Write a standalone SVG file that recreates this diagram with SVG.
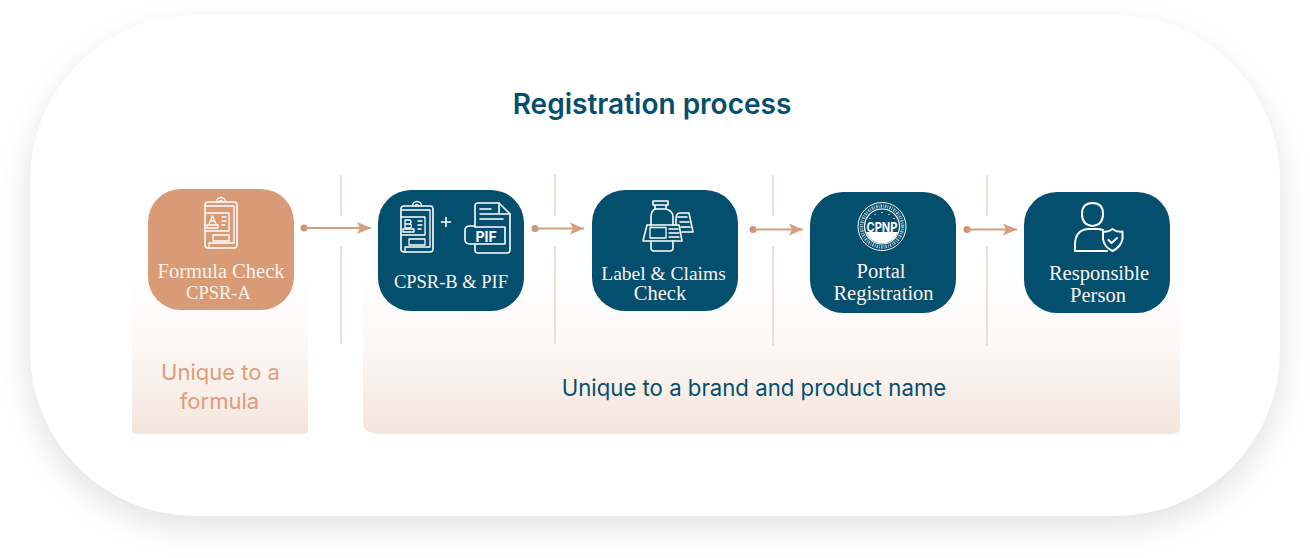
<svg xmlns="http://www.w3.org/2000/svg" width="1310" height="558" viewBox="0 0 1310 558">
<style>
.ser{font-family:"Liberation Serif","DejaVu Serif",serif;font-size:20.500px;fill:#fbf3ee;text-anchor:middle}
.sm{font-size:18.500px}
.md{font-size:19.500px}
.san{font-family:Inter,"Liberation Sans",sans-serif;text-anchor:middle}
.ic{fill:none;stroke:#fff;stroke-width:1.600;stroke-linejoin:round;stroke-linecap:round}
.th{stroke-width:1.300}
.hv{stroke-width:2}
.dark{fill:#044e6e}
.div{stroke:#e9d3c5;stroke-width:1.500;fill:none}
.ln{stroke:#d49e7f;stroke-width:2;fill:none;marker-end:url(#ah)}
.dot{fill:#cb9475}
</style>
<defs>
<filter id="sh" x="-10%" y="-15%" width="120%" height="135%"><feGaussianBlur stdDeviation="17"/></filter>
<linearGradient id="pg" x1="0" y1="0" x2="0" y2="1"><stop offset="0" stop-color="#f3e5dc" stop-opacity="0"/><stop offset=".5" stop-color="#f3e5dc" stop-opacity=".35"/><stop offset="1" stop-color="#f3e5dc"/></linearGradient>
<marker id="ah" viewBox="0 0 14 12" refX="14" refY="6" markerUnits="userSpaceOnUse" markerWidth="14" markerHeight="12" orient="auto"><path d="M0 0L14 6L0 12L3 6Z" fill="#d49e7f"/></marker>
<g id="clip">
<path class="ic" d="M-13 -20H13Q16 -20 16 -17V23Q16 26 13 26H-13Q-16 26 -16 23V-17Q-16 -20 -13 -20Z"/>
<path class="ic th" d="M-16 -16H13V21H-12V26"/>
<path class="ic th" d="M-4.500 -20A4.500 4.500 0 0 1 4.500 -20M-1.500 -20A1.500 1.500 0 0 1 1.500 -20"/>
<path class="ic th" d="M-16 -9H8V9H-16M-14 3H-3V6H-14ZM1 -5H5M1 -1H5M1 3H4M-8 13H8V19H-8Z"/>
</g>
</defs>
<rect x="30" y="30" width="1250" height="496" rx="165" fill="#000" opacity=".12" filter="url(#sh)"/>
<rect id="card" x="30" y="15" width="1250" height="501" rx="165" fill="#fff"/>
<text class="san" x="652" y="114" font-size="28" font-weight="600" fill="#044e6e">Registration process</text>
<g id="panels">
<path d="M132 280H308V430Q308 434 304 434H136Q132 434 132 430Z" fill="url(#pg)"/>
<path d="M363 280H1180V428Q1180 434 1170 434H385Q363 434 363 424Z" fill="url(#pg)"/>
<text class="san" x="220.500" y="380" font-size="22" fill="#de9d79">Unique to a</text>
<text class="san" x="219.500" y="409" font-size="22" fill="#de9d79">formula</text>
<text class="san" x="754" y="396" font-size="22.200" fill="#044e6e">Unique to a brand and product name</text>
</g>
<g id="dividers">
<path class="div" d="M341 175V216M341 246V344M555 174V216M555 246V344M773 175V216M773 246V346M987 175V216M987 246V346"/>
</g>
<g id="connectors">
<circle class="dot" cx="304" cy="228" r="3.500"/><path class="ln" d="M304 228H371"/>
<circle class="dot" cx="535" cy="228.500" r="3.500"/><path class="ln" d="M535 228.500H584"/>
<circle class="dot" cx="753" cy="229.500" r="3.500"/><path class="ln" d="M753 229.500H803"/>
<circle class="dot" cx="967" cy="229.500" r="3.500"/><path class="ln" d="M967 229.500H1017"/>
</g>
<g id="node-formula">
<rect x="148" y="189" width="146" height="121" rx="33" fill="#d99a76"/>
<use href="#clip" x="221" y="222"/>
<path class="ic th" d="M209 224L212.500 216L216 224M210.500 221H214.500"/>
<text class="ser" x="221" y="278">Formula Check</text>
<text class="ser sm" x="218.500" y="299">CPSR-A</text>
</g>
<g id="node-cpsrb">
<rect class="dark" x="378" y="190" width="146" height="121" rx="33"/>
<use href="#clip" x="417" y="226"/>
<path class="ic th" d="M405 220H409Q411 220 411 222Q411 224 409 224H405ZM405 224H409Q411.500 224 411.500 226Q411.500 228 409 228H405Z"/>
<path class="ic" d="M446 217.500V226.500M441.500 222H450.500"/>
<path class="ic" d="M475 227V206Q475 203 478 203H499L510 214V250Q510 253 507 253H478Q475 253 475 250V244"/>
<path class="ic" d="M499 203V214H510M480 209H491M480 214H498M480 219H503"/>
<path class="ic" d="M475 227H505V244H471Q465 244 465 240V230Q465 226 470 226H475"/>
<text x="486" y="241.500" font-family="Inter,Liberation Sans,sans-serif" font-size="14" font-weight="700" fill="#fff" text-anchor="middle">PIF</text>
<text class="ser sm" x="451" y="288">CPSR-B &amp; PIF</text>
</g>
<g id="node-label">
<rect class="dark" x="592" y="190" width="146" height="121" rx="33"/>
<path class="ic" d="M676 219Q676 213 680 213H689L693 232H682M678 217H687M680 222H689M681 227H690M676 219V225"/>
<path class="ic" d="M653 201H668V205H653ZM655 205V209M666 205V209M655 209H666Q673 211 673 217V225M655 209Q651 211 651 217V226M651 241V248Q651 251 654 251H670Q673 251 673 248V241"/>
<path class="ic" d="M647 225H679L682 241H643Z"/>
<path class="ic th" d="M650 227.500H666V238H650ZM669 229H678M669 233H679M669 237H679"/>
<text class="ser md" x="663.500" y="280">Label &amp; Claims</text>
<text class="ser" x="660" y="299.500">Check</text>
</g>
<g id="node-portal">
<rect class="dark" x="810" y="192" width="146" height="121" rx="33"/>
<circle cx="882" cy="226.500" r="24" fill="none" stroke="#fff" stroke-width="1"/>
<circle cx="882" cy="226.500" r="20.500" fill="none" stroke="#dfe9ee" stroke-width="3.500" stroke-dasharray="1.500 1 .8 1.200" opacity=".75"/>
<circle cx="882" cy="226.500" r="17.500" fill="none" stroke="#fff" stroke-width="1.200"/>
<path d="M866 232A17 17 0 0 0 898 232Z" fill="#fff"/>
<path d="M882 212v1M875 214v1M889 214v1M870 218v1M894 218v1" stroke="#fff" stroke-width="1.200"/>
<text x="882" y="232" font-family="Inter,Liberation Sans,sans-serif" font-size="13.500" font-weight="700" fill="#fff" text-anchor="middle" textLength="31" lengthAdjust="spacingAndGlyphs">CPNP</text>
<text class="ser" x="881" y="278">Portal</text>
<text class="ser" x="883.500" y="300">Registration</text>
</g>
<g id="node-person">
<rect class="dark" x="1024" y="192" width="146" height="121" rx="33"/>
<path class="ic hv" d="M1092.500 203Q1103 203 1103 214Q1103 225 1092.500 226Q1082 225 1082 214Q1082 203 1092.500 203Z"/>
<path class="ic hv" d="M1103 230Q1100 229 1097 229H1088Q1075 230 1075 245V251H1107"/>
<path class="ic hv" d="M1112.500 229Q1108 232.500 1103 231.500V239Q1104 247 1112.500 251Q1121 247 1122.500 239V231.500Q1117 232.500 1112.500 229Z"/>
<path class="ic hv" d="M1108.500 240L1111.500 243L1117 238"/>
<text class="ser" x="1099" y="280">Responsible</text>
<text class="ser" x="1098" y="302">Person</text>
</g>
</svg>
